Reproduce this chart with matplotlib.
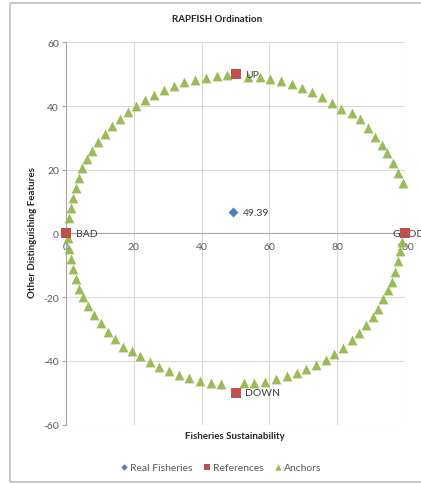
import matplotlib.pyplot as plt
from matplotlib.patches import Rectangle

plt.rcParams['font.family'] = ['Lato', 'DejaVu Sans']
plt.rcParams['axes.unicode_minus'] = False

# data
real_x = [49.39]
real_y = [6.6]
real_labels = ['49.39']

ref_x = [0, 100, 50, 50]
ref_y = [0, 0, 50, -50]
ref_labels = ['BAD', 'GOOD', 'UP', 'DOWN']

anchor_x = [0.9, 1.4, 2.1, 2.9, 3.7, 4.8, 6.2, 7.7, 9.5, 11.5, 13.6, 15.8, 18.2, 20.6,
            23.3, 26.0, 28.9, 31.9, 34.9, 38.0, 41.2, 44.4, 47.6,
            53.8, 57.2, 60.3, 63.4, 66.7, 69.6, 72.6, 75.5, 78.4, 81.0, 84.5, 86.8,
            89.2, 91.2, 93.1, 94.8, 96.4, 98.0, 99.3,
            99.0, 98.5, 98.0, 97.1, 96.1, 95.1, 93.6, 92.1, 90.5, 88.5, 86.5, 84.3,
            81.6, 79.2, 76.7, 73.8, 70.9, 68.0, 65.1, 61.9, 58.8, 55.6, 52.4,
            45.8, 42.8, 39.5, 36.4, 33.4, 30.4, 27.5, 24.8, 21.8, 19.4, 16.9, 14.5,
            12.3, 10.3, 8.3, 6.6, 5.1, 3.8, 2.9, 2.2, 1.4, 0.9, 0.7]
anchor_y = [4.8, 7.9, 11.0, 14.2, 17.4, 20.6, 23.4, 26.0, 28.7, 31.2, 33.6, 35.9, 38.1, 40.0,
            41.9, 43.6, 45.0, 46.3, 47.4, 48.2, 48.8, 49.3, 49.7,
            49.2, 49.0, 48.5, 47.9, 46.9, 45.6, 44.4, 42.8, 41.0, 39.2, 37.9, 35.8,
            33.0, 30.4, 27.8, 25.2, 22.0, 19.1, 15.8,
            -2.6, -5.5, -8.8, -12.0, -15.1, -17.9, -20.7, -23.6, -26.3, -28.7, -31.3, -33.6,
            -36.0, -37.8, -39.7, -41.3, -42.6, -43.9, -44.9, -45.8, -46.5, -47.0, -47.0,
            -47.3, -46.8, -46.2, -45.4, -44.4, -43.1, -41.8, -40.2, -38.4, -36.8, -35.5, -33.2,
            -30.8, -28.2, -25.6, -22.7, -20.0, -17.5, -14.3, -11.2, -8.0, -5.0, -1.3]

xticks = [0, 20, 40, 60, 80, 100]
yticks = [-60, -40, -20, 0, 20, 40, 60]

blue = '#4F81BD'
red = '#C0504D'
green = '#9BBB59'
txt = '#404040'

fig = plt.figure(figsize=(4.21, 4.85), dpi=100)
ax = fig.add_axes([66 / 421, 1 - 425.6 / 485, (405 - 66) / 421, (425.6 - 43.3) / 485])

ax.scatter(anchor_x, anchor_y, marker='^', s=50, color=green, zorder=3, label='Anchors',
           linewidths=0, clip_on=False)
ax.scatter(ref_x, ref_y, marker='s', s=44, color=red, zorder=4, label='References',
           linewidths=0, clip_on=False)
ax.scatter(real_x, real_y, marker='D', s=26, color=blue, zorder=4, label='Real Fisheries',
           linewidths=0, clip_on=False)

for x, y, s in zip(real_x, real_y, real_labels):
    ax.annotate(s, (x, y), xytext=(7, 0), textcoords='offset points', va='center',
                fontsize=7.5, color=txt)
for x, y, s in zip(ref_x, ref_y, ref_labels):
    off = (-9, 0) if x >= 100 else (7, 0)
    ax.annotate(s, (x, y), xytext=off, textcoords='offset points', va='center',
                fontsize=7.5, color=txt, annotation_clip=False)

ax.set_xlim(0, 100)
ax.set_ylim(-60, 60)
ax.set_xticks(xticks)
ax.set_yticks(yticks)
ax.grid(True, color='#D9D9D9', linewidth=0.8)
ax.set_axisbelow(True)

for side in ['top', 'right']:
    ax.spines[side].set_visible(False)
ax.spines['bottom'].set_position(('data', 0))
ax.spines['bottom'].set_color('#A6A6A6')
ax.spines['left'].set_color('#A6A6A6')
ax.tick_params(axis='x', length=0, pad=6, labelsize=7.5, labelcolor='#595959')
ax.tick_params(axis='y', length=3, color='#A6A6A6', pad=2, labelsize=7.5, labelcolor='#595959')

fig.text(217 / 421, 1 - 20 / 485, 'RAPFISH Ordination', ha='center', va='center',
         fontsize=7, fontweight='bold', color='#262626')
fig.text(33 / 421, 1 - 233 / 485, 'Other Distinguishing Features', rotation=90,
         ha='center', va='center', fontsize=7, fontweight='bold', color='#262626')
fig.text(235 / 421, 1 - 436.5 / 485, 'Fisheries Sustainability', ha='center', va='center',
         fontsize=7, fontweight='bold', color='#262626')

h, l = ax.get_legend_handles_labels()
order = [2, 1, 0]
fig.legend([h[i] for i in order], [l[i] for i in order], loc='center',
           bbox_to_anchor=(220 / 421, 1 - 468 / 485), ncol=3, frameon=False,
           fontsize=7.5, handletextpad=0.05, handlelength=1.0, columnspacing=0.9,
           markerscale=0.65, labelcolor='#595959')

fig.patches.append(Rectangle((10 / 421, 2 / 485), 2.0, 1 - 6 / 485, transform=fig.transFigure,
                             fill=False, edgecolor='#BFBFBF', linewidth=1.2))

fig.savefig('out.png', dpi=100)
